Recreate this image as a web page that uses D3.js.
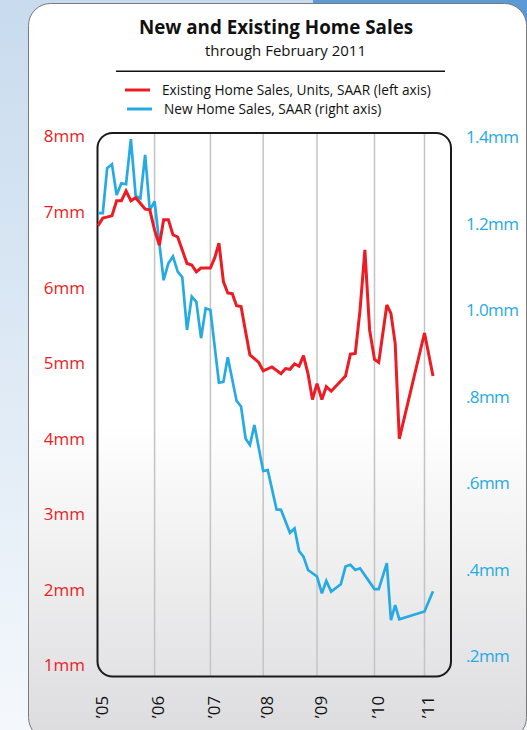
<!DOCTYPE html>
<html><head><meta charset="utf-8">
<script src="https://cdn.jsdelivr.net/npm/d3@7"></script>
<style>html,body{margin:0;padding:0;background:#fff;overflow:hidden}</style>
</head><body>
<svg id="chart" width="527" height="730"></svg>
<script>
// ---------------- data ----------------
const titleText = "New and Existing Home Sales";
const subtitleText = "through February 2011";
const seriesNames = ["Existing Home Sales, Units, SAAR (left axis)", "New Home Sales, SAAR (right axis)"];

const existingMonths = ["2005-01","2005-02","2005-04","2005-05","2005-06","2005-07","2005-08","2005-09","2005-11","2005-12",
  "2006-01","2006-02","2006-03","2006-04","2006-05","2006-06","2006-08","2006-09","2006-10","2006-11",
  "2007-01","2007-02","2007-03","2007-04","2007-05","2007-06","2007-07","2007-08","2007-09","2007-10","2007-11","2007-12",
  "2008-01","2008-03","2008-05","2008-06","2008-07","2008-08","2008-09","2008-10","2008-11","2008-12",
  "2009-01","2009-02","2009-03","2009-04","2009-07","2009-08","2009-09","2009-10","2009-11","2009-12",
  "2010-01","2010-02","2010-04","2010-05","2010-06","2010-07","2011-01","2011-02"];
const existingValues = [6.82,6.92,6.95,7.15,7.15,7.28,7.15,7.19,7.04,7.03,
  6.76,6.56,6.90,6.90,6.70,6.67,6.32,6.30,6.21,6.26,
  6.26,6.40,6.59,6.08,5.93,5.92,5.76,5.75,5.42,5.11,5.06,5.01,
  4.90,4.95,4.86,4.93,4.92,4.99,4.96,5.10,4.86,4.52,
  4.73,4.52,4.69,4.63,4.83,5.12,5.13,5.70,6.50,5.44,
  5.05,5.01,5.77,5.66,5.26,4.00,5.40,4.83];

const newMonths = ["2005-01","2005-02","2005-03","2005-04","2005-05","2005-06","2005-07","2005-08","2005-09","2005-10","2005-11","2005-12",
  "2006-01","2006-03","2006-04","2006-05","2006-06","2006-07","2006-08","2006-09","2006-10","2006-11","2006-12",
  "2007-01","2007-03","2007-04","2007-05","2007-07","2007-08","2007-09","2007-10","2007-11",
  "2008-01","2008-02","2008-04","2008-05","2008-07","2008-08","2008-09","2008-10","2008-11",
  "2009-01","2009-02","2009-03","2009-04","2009-06","2009-07","2009-08","2009-09","2009-10","2009-12",
  "2010-01","2010-02","2010-04","2010-05","2010-06","2010-07","2011-01","2011-02"];
const newValues = [1.225,1.225,1.329,1.338,1.267,1.294,1.292,1.396,1.265,1.259,1.360,1.232,
  1.252,1.070,1.109,1.125,1.090,1.077,0.955,1.032,1.020,0.936,1.005,
  1.001,0.833,0.835,0.892,0.791,0.778,0.704,0.689,0.735,
  0.629,0.631,0.540,0.539,0.486,0.496,0.444,0.431,0.400,
  0.385,0.346,0.375,0.350,0.367,0.408,0.412,0.400,0.404,0.372,
  0.356,0.356,0.416,0.284,0.319,0.286,0.304,0.351];

const yearMonths = ["2005-01","2006-01","2007-01","2008-01","2009-01","2010-01","2011-01"];
const yearLabels = ["\u201905","\u201906","\u201907","\u201908","\u201909","\u201910","\u201911"];
const leftTicks = [1,2,3,4,5,6,7,8];
const leftTickLabels = ["1mm","2mm","3mm","4mm","5mm","6mm","7mm","8mm"];
const rightTicks = [0.2,0.4,0.6,0.8,1.0,1.2,1.4];
const rightTickLabels = [".2mm",".4mm",".6mm",".8mm","1.0mm","1.2mm","1.4mm"];

// ---------------- layout ----------------
const RED = "#ed1c24", BLUE = "#27aae1";
const FONT = "'Open Sans', 'Noto Sans', sans-serif";
const parse = d3.timeParse("%Y-%m");
const frame = {x0: 97.5, x1: 451, y0: 133, y1: 676.5, r: 15};

// hand-spaced year grid of the original: anchor each January
const xAnchorMonths = ["2005-01","2006-01","2007-01","2008-01","2009-01","2010-01","2011-01","2011-02"];
const xAnchorPx = [98, 154.6, 210.4, 263.2, 317, 374.5, 424.5, 433];
const x = d3.scaleTime().domain(xAnchorMonths.map(parse)).range(xAnchorPx);
const yL = d3.scaleLinear().domain([1, 8]).range([665.5, 136.5]);
const yR = d3.scaleLinear().domain([0.2, 1.4]).range([656.5, 137.5]);

const svg = d3.select("#chart");
const defs = svg.append("defs");

const bgGrad = defs.append("linearGradient").attr("id","bgGrad").attr("x1",0).attr("y1",0).attr("x2",0).attr("y2",1);
bgGrad.append("stop").attr("offset",0).attr("stop-color","#c8dbee");
bgGrad.append("stop").attr("offset",1).attr("stop-color","#f4f8fc");

const cardGrad = defs.append("linearGradient").attr("id","cardGrad").attr("x1",0).attr("y1",0).attr("x2",0).attr("y2",1);
cardGrad.append("stop").attr("offset",0).attr("stop-color","#ffffff");
cardGrad.append("stop").attr("offset",0.57).attr("stop-color","#ffffff");
cardGrad.append("stop").attr("offset",0.8).attr("stop-color","#ececed");
cardGrad.append("stop").attr("offset",1).attr("stop-color","#dcdcdf");

// page background
svg.append("rect").attr("width",527).attr("height",730).attr("fill","url(#bgGrad)");
svg.append("rect").attr("x",313).attr("y",0).attr("width",214).attr("height",40).attr("fill","#5b9bd5");

// card
svg.append("rect").attr("x",28.5).attr("y",3.5).attr("width",498).attr("height",736).attr("rx",22)
  .attr("fill","url(#cardGrad)").attr("stroke","#7a7a7a").attr("stroke-width",1);

// title
svg.append("text").attr("x",276).attr("y",34).attr("text-anchor","middle")
  .attr("font-family",FONT).attr("font-weight",700).attr("font-size",18.8).attr("fill","#111").text(titleText);
svg.append("text").attr("x",285.5).attr("y",55.8).attr("text-anchor","middle")
  .attr("font-family",FONT).attr("font-size",15).attr("fill","#111").text(subtitleText);
svg.append("line").attr("x1",116).attr("x2",445).attr("y1",71.3).attr("y2",71.3).attr("stroke","#111").attr("stroke-width",1.5);

// legend
const legend = svg.append("g");
const legendRows = [{name: seriesNames[0], color: RED, y: 90, lx: 125}, {name: seriesNames[1], color: BLUE, y: 109, lx: 127}];
legendRows.forEach(r => {
  legend.append("line").attr("x1",r.lx).attr("x2",r.lx+25).attr("y1",r.y).attr("y2",r.y).attr("stroke",r.color).attr("stroke-width",3);
  legend.append("text").attr("x",r.lx+37).attr("y",r.y+5).attr("font-family",FONT).attr("font-size",13.7).attr("fill","#111").text(r.name);
});

// gridlines
svg.append("g").selectAll("line").data(yearMonths.slice(1)).join("line")
  .attr("x1", d => x(parse(d))).attr("x2", d => x(parse(d)))
  .attr("y1", frame.y0).attr("y2", frame.y1)
  .attr("stroke","#c4c4c4").attr("stroke-width",1.5);

// frame
svg.append("rect").attr("x",frame.x0).attr("y",frame.y0).attr("width",frame.x1-frame.x0).attr("height",frame.y1-frame.y0)
  .attr("rx",frame.r).attr("fill","none").attr("stroke","#1a1a1a").attr("stroke-width",2);

// lines
const existing = existingMonths.map((m,i) => ({d: parse(m), v: existingValues[i]}));
const newer = newMonths.map((m,i) => ({d: parse(m), v: newValues[i]}));
svg.append("path").datum(newer)
  .attr("d", d3.line().x(p => x(p.d)).y(p => yR(p.v)))
  .attr("fill","none").attr("stroke",BLUE).attr("stroke-width",2.7).attr("stroke-linejoin","miter").attr("stroke-miterlimit",3);
svg.append("path").datum(existing)
  .attr("d", d3.line().x(p => x(p.d)).y(p => yL(p.v)))
  .attr("fill","none").attr("stroke",RED).attr("stroke-width",3).attr("stroke-linejoin","miter").attr("stroke-miterlimit",3);

// left axis
const gL = svg.append("g").attr("transform","translate(85,0)")
  .call(d3.axisLeft(yL).tickValues(leftTicks).tickFormat((d,i) => leftTickLabels[i]).tickSize(0).tickPadding(0));
gL.select(".domain").remove();
gL.selectAll("text").attr("font-family",FONT).attr("font-size",17).attr("fill",RED);

// right axis
const gR = svg.append("g").attr("transform","translate(466,0)")
  .call(d3.axisRight(yR).tickValues(rightTicks).tickFormat((d,i) => rightTickLabels[i]).tickSize(0).tickPadding(0));
gR.select(".domain").remove();
gR.selectAll("text").attr("font-family",FONT).attr("font-size",17).attr("letter-spacing",-0.6).attr("fill",BLUE);

// x labels (rotated)
svg.append("g").selectAll("text").data(yearMonths).join("text")
  .attr("transform", (d) => `translate(${x(parse(d)) + 3},707) rotate(-90)`)
  .attr("text-anchor","middle").attr("dominant-baseline","central")
  .attr("font-family",FONT).attr("font-size",17).attr("fill","#111")
  .text((d,i) => yearLabels[i]);
</script>
</body></html>
